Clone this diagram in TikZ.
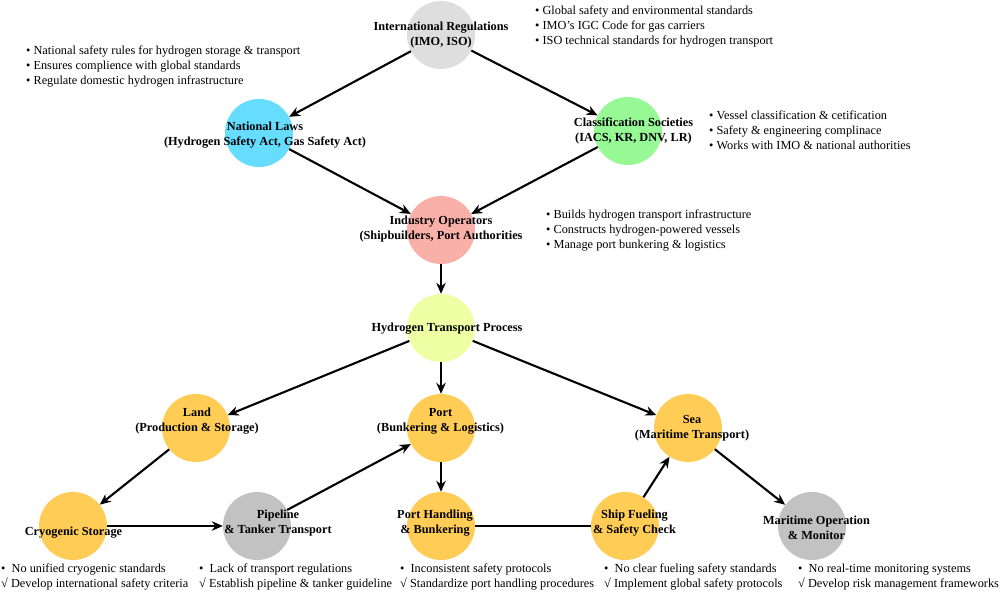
\documentclass[tikz,border=0pt]{standalone}
\usepackage{fontspec}
\setmainfont{Liberation Serif}
\usetikzlibrary{arrows.meta}
\definecolor{cintl}{HTML}{DEDEDE}
\definecolor{cnatl}{HTML}{66DDFF}
\definecolor{cclass}{HTML}{96F996}
\definecolor{cind}{HTML}{F8B0A8}
\definecolor{chyd}{HTML}{EEFFA4}
\definecolor{corange}{HTML}{FFCC55}
\definecolor{cgray}{HTML}{C2C2C2}
\tikzset{
  circ/.style={circle, minimum size=68pt, inner sep=0pt, draw=none},
  lbl/.style={font=\fontsize{12.3}{15}\selectfont\bfseries, align=center, inner sep=0pt},
  info/.style={font=\fontsize{12.3}{15}\selectfont, align=left, inner sep=0pt, anchor=north west},
  arr/.style={line width=2.1pt, -{Stealth[length=11pt,width=9.5pt]}},
  ln/.style={line width=2.1pt}
}
\begin{document}
\begin{tikzpicture}[x=1pt,y=-1pt]
\useasboundingbox (0,0) rectangle (1000,591);
% circles
\node[circ, fill=cintl] (intl) at (441,35) {};
\node[circ, fill=cnatl] (natl) at (259,133) {};
\node[circ, fill=cclass] (class) at (628,131) {};
\node[circ, fill=cind] (ind) at (441,230) {};
\node[circ, fill=chyd] (hyd) at (441,328) {};
\node[circ, fill=corange] (land) at (196,428) {};
\node[circ, fill=corange] (port) at (441,428) {};
\node[circ, fill=corange] (sea) at (688,428) {};
\node[circ, fill=corange] (cryo) at (73,526) {};
\node[circ, fill=cgray] (pipe) at (257,526) {};
\node[circ, fill=corange] (hand) at (441,526) {};
\node[circ, fill=corange] (ship) at (625,526) {};
\node[circ, fill=cgray] (mar) at (812,526) {};
% edges
\draw[arr] (intl) -- (natl);
\draw[arr] (intl) -- (class);
\draw[arr] (natl) -- (ind);
\draw[arr] (class) -- (ind);
\draw[arr] (ind) -- (hyd);
\draw[arr] (hyd) -- (land);
\draw[arr] (hyd) -- (port);
\draw[arr] (hyd) -- (sea);
\draw[arr] (land) -- (cryo);
\draw[arr] (cryo) -- (pipe);
\draw[arr] (pipe) -- (port);
\draw[arr] (port) -- (hand);
\draw[ln] (hand) -- (ship);
\draw[arr] (ship) -- (sea);
\draw[arr] (sea) -- (mar);
% labels
\node[lbl] (lintl) at (441,35) {International Regulations\\(IMO, ISO)};
\node[lbl] (lnatl) at (265,135.5) {National Laws\\(Hydrogen Safety Act, Gas Safety Act)};
\node[lbl] (lclass) at (633.5,131) {Classification Societies\\(IACS, KR, DNV, LR)};
\node[lbl] (lind) at (441,229.5) {Industry Operators\\(Shipbuilders, Port Authorities};
\node[lbl] (lhyd) at (447,329) {Hydrogen Transport Process};
\node[lbl] (lland) at (197,421) {Land\\(Production \& Storage)};
\node[lbl] (lport) at (440.5,421) {Port\\(Bunkering \& Logistics)};
\node[lbl] (lsea) at (692,428) {Sea\\(Maritime Transport)};
\node[lbl] (lcryo) at (73.5,533) {Cryogenic Storage};
\node[lbl] (lpipe) at (278,523) {Pipeline\\\& Tanker Transport};
\node[lbl] (lhand) at (435,523) {Port Handling\\\& Bunkering};
\node[lbl] (lship) at (634.5,523) {Ship Fueling\\\& Safety Check};
\node[lbl] (lmar) at (816.5,527.5) {Maritime Operation\\\& Monitor};
% info blocks
\node[info] (iintl) at (535,5.5) {• Global safety and environmental standards\\• IMO’s IGC Code for gas carriers\\• ISO technical standards for hydrogen transport};
\node[info] (inatl) at (26,45.5) {• National safety rules for hydrogen storage \& transport\\• Ensures complience with global standards\\• Regulate domestic hydrogen infrastructure};
\node[info] (iclass) at (709,110.5) {• Vessel classification \& cetification\\• Safety \& engineering complinace\\• Works with IMO \& national authorities};
\node[info] (iind) at (546,209.5) {• Builds hydrogen transport infrastructure\\• Constructs hydrogen-powered vessels\\• Manage port bunkering \& logistics};
\node[info] (icryo) at (1,563.5) {•\ \ No unified cryogenic standards\\√ Develop international safety criteria};
\node[info] (ipipe) at (199,563.5) {•\ \ Lack of transport regulations\\√ Establish pipeline \& tanker guideline};
\node[info] (ihand) at (400,563.5) {•\ \ Inconsistent safety protocols\\√ Standardize port handling procedures};
\node[info] (iship) at (604,563.5) {•\ \ No clear fueling safety standards\\√ Implement global safety protocols};
\node[info] (imar) at (798,563.5) {•\ \ No real-time monitoring systems\\√ Develop risk management frameworks};
\end{tikzpicture}
\end{document}
